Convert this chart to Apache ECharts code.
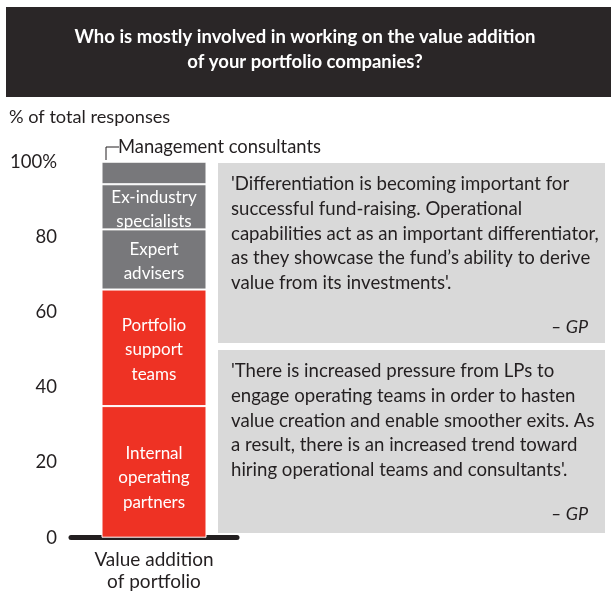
<!DOCTYPE html>
<html>
<head>
<meta charset="utf-8">
<script src="https://cdn.jsdelivr.net/npm/echarts@6/dist/echarts.min.js"></script>
<style>
  html, body { margin: 0; padding: 0; background: #fff; }
  #chart { width: 611px; height: 594px; }
</style>
</head>
<body>
<div id="chart"></div>
<script>
const categories = ["Value addition\nof portfolio"];
const segmentNames = [
  "Internal\noperating\npartners",
  "Portfolio\nsupport\nteams",
  "Expert\nadvisers",
  "Ex-industry\nspecialists",
  "Management consultants"
];
const segmentValues = [35, 31, 16, 12, 6];
const segmentColors = ["#ee3224", "#ee3224", "#78787b", "#78787b", "#78787b"];
const showInsideLabel = [true, true, true, true, false];
const labelNudge = [6, 2, 2, 2.5, 0];
const yTicks = [0, 20, 40, 60, 80, 100];

const titleText = "Who is mostly involved in working on the value addition\nof your portfolio companies?";
const quotes = [
  "'Differentiation is becoming important for\nsuccessful fund-raising. Operational\ncapabilities act as an important differentiator,\nas they showcase the fund\u2019s ability to derive\nvalue from its investments'.",
  "'There is increased pressure from LPs to\nengage operating teams in order to hasten\nvalue creation and enable smoother exits. As\na result, there is an increased trend toward\nhiring operational teams and consultants'."
];
const quoteSource = "\u2013 GP";

const FONT = "Lato";
const chart = echarts.init(document.getElementById("chart"));

const series = segmentValues.map((v, i) => ({
  name: segmentNames[i],
  type: "bar",
  stack: "total",
  barWidth: 105,
  data: [v],
  itemStyle: { color: segmentColors[i], borderColor: "#fff", borderWidth: 1 },
  label: {
    show: showInsideLabel[i],
    position: "inside",
    offset: [0, labelNudge[i]],
    formatter: segmentNames[i],
    color: "#fff",
    fontFamily: FONT,
    fontSize: 17,
    lineHeight: 24.5
  },
  silent: true
}));

// quote panels on the right
const quoteBoxes = [
  { top: 163, height: 180 },
  { top: 350, height: 183 }
];

const graphics = [
  {
    type: "rect",
    shape: { x: 6, y: 7, width: 605, height: 90 },
    style: { fill: "#2a2627" }
  },
  {
    type: "text",
    x: 305,
    y: 50,
    style: {
      text: titleText,
      fill: "#fff",
      font: "bold 18.5px " + FONT,
      lineHeight: 25,
      align: "center",
      verticalAlign: "middle"
    }
  },
  {
    type: "text",
    x: 9,
    y: 117,
    style: { text: "% of total responses", fill: "#231f20", font: "18.2px " + FONT, verticalAlign: "middle" }
  },
  {
    type: "polyline",
    shape: { points: [[106, 160], [106, 147], [119, 147]] },
    style: { stroke: "#231f20", lineWidth: 1, fill: null }
  },
  {
    type: "text",
    x: 118,
    y: 147,
    style: { text: segmentNames[4], fill: "#231f20", font: "18.4px " + FONT, verticalAlign: "middle" }
  }
];

quoteBoxes.forEach((b, i) => {
  graphics.push({
    type: "rect",
    shape: { x: 218, y: b.top, width: 387, height: b.height },
    style: { fill: "#d9d9d9" }
  });
  graphics.push({
    type: "text",
    x: 231,
    y: b.top + 9,
    style: { text: quotes[i], fill: "#231f20", font: "18.6px " + FONT, lineHeight: 24.6, verticalAlign: "top" }
  });
  graphics.push({
    type: "text",
    x: 588,
    y: b.top + 164,
    style: { text: quoteSource, fill: "#231f20", font: "italic 18px " + FONT, align: "right", verticalAlign: "middle" }
  });
});

chart.setOption({
  animation: false,
  grid: { left: 71, right: 374, top: 161.7, bottom: 56.3 },
  xAxis: {
    type: "category",
    data: categories,
    offset: 2.5,
    axisLine: { lineStyle: { color: "#231f20", width: 5 } },
    axisTick: { show: false },
    axisLabel: {
      color: "#231f20",
      fontFamily: FONT,
      fontSize: 19,
      lineHeight: 22,
      margin: 9
    }
  },
  yAxis: {
    type: "value",
    min: 0,
    max: 100,
    interval: 20,
    axisLine: { show: false },
    axisTick: { show: false },
    splitLine: { show: false },
    axisLabel: {
      margin: 14,
      color: "#231f20",
      fontFamily: FONT,
      fontSize: 18.5,
      formatter: v => (yTicks.includes(v) ? (v === 100 ? v + "%" : String(v)) : "")
    }
  },
  series: series,
  graphic: graphics
});
</script>
</body>
</html>
